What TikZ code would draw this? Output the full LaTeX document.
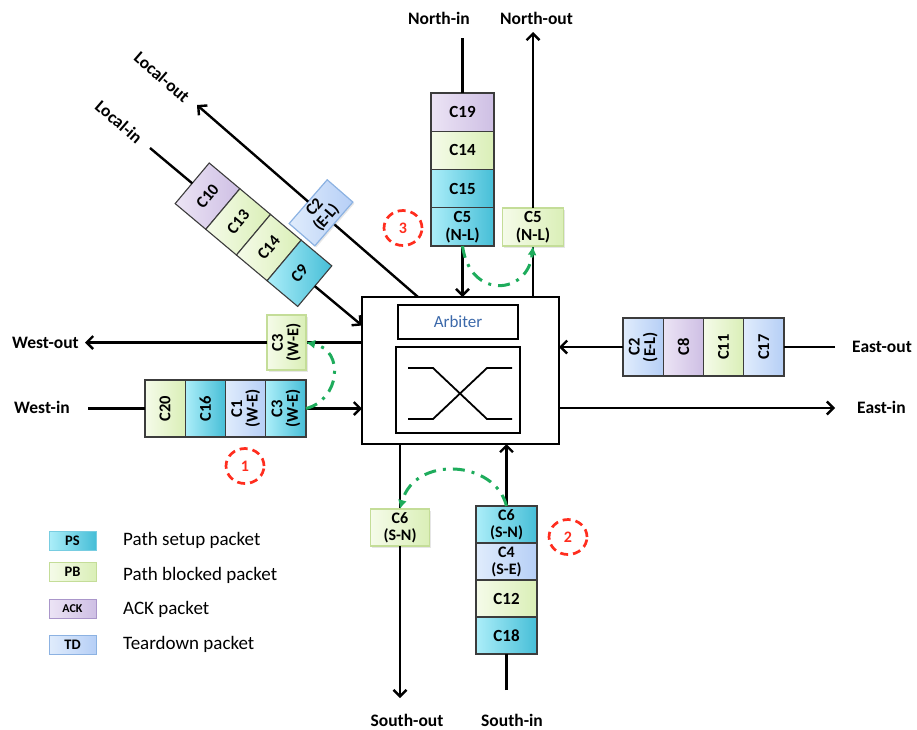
\documentclass[tikz,border=0pt]{standalone}
\usepackage{fontspec}
\setmainfont{Carlito}
\usetikzlibrary{arrows.meta,shadows,calc,shapes.geometric}
\definecolor{psL}{RGB}{172,238,249}
\definecolor{psR}{RGB}{70,190,215}
\definecolor{pbL}{RGB}{245,251,233}
\definecolor{pbR}{RGB}{218,239,183}
\definecolor{ackL}{RGB}{236,228,245}
\definecolor{ackR}{RGB}{206,191,228}
\definecolor{tdL}{RGB}{224,236,252}
\definecolor{tdR}{RGB}{182,207,246}
\definecolor{cellB}{RGB}{60,60,60}
\definecolor{pbB}{RGB}{196,221,152}
\definecolor{tdB}{RGB}{140,178,226}
\definecolor{psB}{RGB}{120,205,225}
\definecolor{ackB}{RGB}{170,150,202}
\definecolor{grn}{RGB}{30,172,92}
\definecolor{circred}{RGB}{255,45,30}
\definecolor{arbblue}{RGB}{60,105,170}
\begin{document}
\begin{tikzpicture}[x=1pt,y=-1pt,
  wire/.style={line width=2.4pt, draw=black},
  arr/.style={-{Straight Barb[length=6.5pt,width=13pt]}},
  cell/.style={draw=cellB, line width=1.1pt, inner sep=0pt, outer sep=0pt, align=center,
    font=\fontsize{17}{18}\selectfont\bfseries},
  tcell/.style={cell, font=\fontsize{16.5}{15.5}\selectfont\bfseries},
  ps/.style={left color=psL, right color=psR},
  pb/.style={left color=pbL, right color=pbR},
  ack/.style={left color=ackL, right color=ackR},
  td/.style={left color=tdL, right color=tdR},
  vcell/.style={cell, minimum width=63pt, minimum height=38.25pt, anchor=north},
  scell/.style={cell, minimum width=61pt, minimum height=37pt, anchor=north,
    font=\fontsize{16}{17}\selectfont\bfseries},
  hcell/.style={tcell, rotate=90, minimum width=57pt, minimum height=40.25pt, anchor=north},
  ecell/.style={tcell, rotate=90, minimum width=58pt, minimum height=40.25pt, anchor=north},
  lcell/.style={tcell, rotate=50, minimum width=53pt, minimum height=40pt, anchor=north},
  sbox/.style={line width=1.2pt, inner sep=0pt, outer sep=0pt, align=center,
    font=\fontsize{17}{18}\selectfont\bfseries,
    drop shadow={opacity=0.2, shadow xshift=1.5pt, shadow yshift=-1.5pt}},
  pbbox/.style={sbox, draw=pbB, pb},
  tdbox/.style={sbox, draw=tdB, td},
  lbl/.style={font=\fontsize{17.5}{19}\selectfont\bfseries, inner sep=0pt},
  lgbox/.style={line width=1pt, minimum width=47pt, minimum height=19pt, inner sep=0pt,
    font=\fontsize{14.5}{15}\selectfont\bfseries},
  lgtxt/.style={font=\fontsize{19}{20}\selectfont, anchor=west, inner sep=0pt},
  circ/.style={ellipse, draw=circred, line width=2.7pt, dash pattern=on 8pt off 5pt,
    minimum width=38pt, minimum height=35pt, inner sep=0pt, text=circred,
    font=\fontsize{16}{16}\selectfont\bfseries},
  greenarc/.style={draw=grn, line width=3pt, dash pattern=on 12pt off 7pt on 3pt off 7pt,
    -{Latex[length=9pt,width=9pt]}}
]
\useasboundingbox (0,0) rectangle (917,729);

% router
\node[draw, line width=2pt, minimum width=197pt, minimum height=147pt, outer sep=0pt] (router) at (460.5,370.5) {};
\node[draw, line width=2pt, minimum width=120pt, minimum height=34pt, text=arbblue,
  font=\fontsize{17}{20}\selectfont] (arb) at (458,322) {Arbiter};
\node[draw, line width=2pt, minimum width=124pt, minimum height=86pt] (xbar) at (458,390) {};
\draw[line width=1.8pt] (408,368) -- (433,368) -- (487,419) -- (512,419);
\draw[line width=1.8pt] (408,419) -- (433,419) -- (487,368) -- (512,368);

% coordinates for free ends
\coordinate (nin) at (462.5,38);
\coordinate (nout) at (533,32);
\coordinate (win) at (88,408.5);
\coordinate (wout) at (85,342.5);
\coordinate (eout) at (835,347);
\coordinate (ein) at (835,408);
\coordinate (sin) at (506.5,690);
\coordinate (sout) at (400,698);
\coordinate (lin) at (150,148);
\coordinate (rlin) at (362,325.5);
\coordinate (lout) at (197,105);
\coordinate (rlout) at (418,297);

% out lines (drawn below boxes)
\draw[wire] (nout |- router.north) -- (nout |- 0,246);
\draw[wire] (router.west |- wout) -- (306,342.5);
\draw[wire] (router.south -| sout) -- (sout |- 0,509);
\draw[wire] (rlout) -- (321,212.8);

% north stack
\node[vcell,ack] (n1) at (462.5,93) {C19};
\node[vcell,pb] (n2) at (n1.south) {C14};
\node[vcell,ps] (n3) at (n2.south) {C15};
\node[vcell,ps] (n4) at (n3.south) {C5\\(N-L)};
\draw[wire] (nin) -- (n1.north);
\draw[wire,arr] (n4.south) -- (n4.south |- router.north);

% north out
\node[pbbox, minimum width=61pt, minimum height=38pt] (nob) at (533,227) {C5\\(N-L)};
\draw[wire,arr] (nob.north) -- (nout);

% south stack
\node[scell,ps] (s1) at (506.5,506) {C6\\(S-N)};
\node[scell,td] (s2) at (s1.south) {C4\\(S-E)};
\node[scell,pb,font=\fontsize{17}{18}\selectfont\bfseries] (s3) at (s2.south) {C12};
\node[scell,ps,font=\fontsize{17}{18}\selectfont\bfseries] (s4) at (s3.south) {C18};
\draw[wire] (sin) -- (s4.south);
\draw[wire,arr] (s1.north) -- (s1.north |- router.south);

% south out
\node[pbbox, minimum width=59pt, minimum height=37pt, font=\fontsize{16}{17}\selectfont\bfseries] (sob) at (400,527.5) {C6\\(S-N)};
\draw[wire,arr] (sob.south) -- (sout);

% west stack
\node[hcell,pb] (w1) at (145,408.5) {C20};
\node[hcell,ps] (w2) at (w1.south) {C16};
\node[hcell,td] (w3) at (w2.south) {C1\\(W-E)};
\node[hcell,ps] (w4) at (w3.south) {C3\\(W-E)};
\draw[wire] (win) -- (w1.north);
\draw[wire,arr] (w4.south) -- (w4.south -| router.west);

% west out
\node[pbbox, rotate=90, minimum width=55pt, minimum height=39pt, font=\fontsize{16.5}{15.5}\selectfont\bfseries] (wob) at (286.5,342.5) {C3\\(W-E)};
\draw[wire,arr] (wob.north) -- (wout);

% east stack
\node[ecell,td] (e1) at (623,347) {C2\\(E-L)};
\node[ecell,ack] (e2) at (e1.south) {C8};
\node[ecell,pb] (e3) at (e2.south) {C11};
\node[ecell,td] (e4) at (e3.south) {C17};
\draw[wire] (eout) -- (e4.south);
\draw[wire,arr] (e1.north) -- (e1.north -| router.east);
\draw[wire,arr] (router.east |- ein) -- (ein);

% local stack
\node[lcell,ack] (l1) at (192.2,183.3) {C10};
\node[lcell,pb] (l2) at (l1.south) {C13};
\node[lcell,pb] (l3) at (l2.south) {C14};
\node[lcell,ps] (l4) at (l3.south) {C9};
\draw[wire] (lin) -- (l1.north);
\draw[wire,arr] (l4.south) -- (rlin);

% local out
\node[tdbox, rotate=49, minimum width=58pt, minimum height=34pt, font=\fontsize{16.5}{15.5}\selectfont\bfseries] (lob) at (321,212.8) {C2\\(E-L)};
\draw[wire,arr] (lob) -- (lout);

% labels
\node[lbl] (tNin) at (439,18) {North-in};
\node[lbl] (tNout) at (536.5,18) {North-out};
\node[lbl,anchor=east] (tWout) at (79,342.5) {West-out};
\node[lbl,anchor=west] (tWin) at (14,407) {West-in};
\node[lbl,anchor=west] (tEout) at (852,347) {East-out};
\node[lbl,anchor=west] (tEin) at (857,407) {East-in};
\node[lbl] (tSout) at (407,720) {South-out};
\node[lbl] (tSin) at (512,720) {South-in};
\node[lbl,rotate=-41] (tLout) at (162,77) {Local-out};
\node[lbl,rotate=-41] (tLin) at (119,122) {Local-in};

% green arcs
\draw[greenarc] (w4.south) .. controls +(34,-8.5) and +(39,7.5) .. (wob.south);
\draw[greenarc] (n4.south) .. controls +(7.5,54) and +(-5,49) .. (nob.south);
\draw[greenarc] (s1.north) .. controls +(-11.5,-46) and +(15,-54) .. (sob.north);

% circles
\node[circ] (c1) at (245,466) {1};
\node[circ] (c2) at (568,537) {2};
\node[circ] (c3) at (403,228) {3};

% legend
\node[lgbox, draw=psB, ps] (g1) at (72.5,540.5) {PS};
\node[lgbox, draw=pbB, pb] (g2) at (72.5,572) {PB};
\node[lgbox, draw=ackB, ack, font=\fontsize{12}{13}\selectfont\bfseries] (g3) at (72.5,609) {ACK};
\node[lgbox, draw=tdB, td] (g4) at (72.5,644.5) {TD};
\node[lgtxt] (gt1) at (123,540.5) {Path setup packet};
\node[lgtxt] (gt2) at (123,575) {Path blocked packet};
\node[lgtxt] (gt3) at (123,609) {ACK packet};
\node[lgtxt] (gt4) at (123,644.5) {Teardown packet};
\end{tikzpicture}
\end{document}
